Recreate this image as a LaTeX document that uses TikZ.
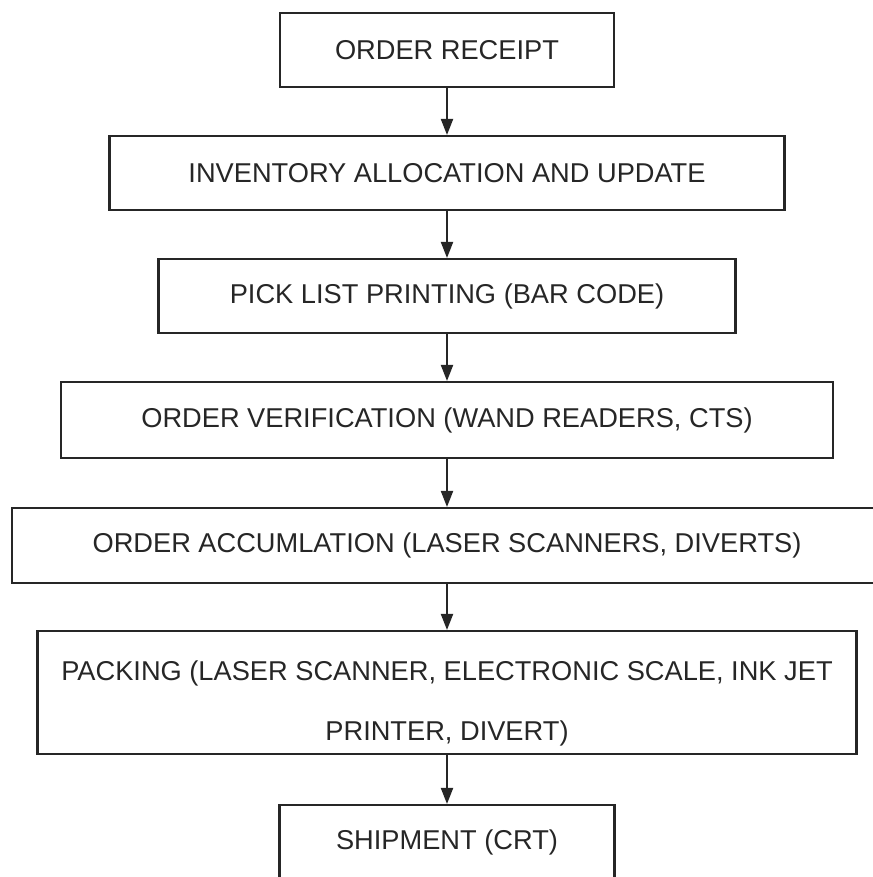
\documentclass[tikz,border=0pt]{standalone}
\usepackage{amsmath}
\usepackage{amssymb}
\usepackage{fontspec}
\setmainfont{Liberation Sans}
\usepackage{tikz}
\usetikzlibrary{arrows.meta}

\begin{document}
\begin{tikzpicture}[
    stepbox/.style = {draw = black!85, line width = 1.2pt, minimum height = 1.48cm,
                      text = black!85, font = \fontsize{15.5}{34}\selectfont},
    steptext/.style = {text = black!85, align = center, font = \fontsize{15.5}{34}\selectfont},
    flow/.style = {draw = black!85, line width = 1.2pt,
                   -{Triangle[width = 2.4mm, length = 3.2mm]}}
    ]
    \useasboundingbox (0,0) rectangle (17.46,-17.54);
    \begin{scope} [fill opacity = 1]
%% One box per step, all centred on the same vertical line.
    \node[stepbox, minimum width = 6.68cm]  (receipt)   at (8.94,-1.00)  {ORDER RECEIPT};
    \node[stepbox, minimum width = 13.5cm]  (inventory) at (8.94,-3.46)  {INVENTORY ALLOCATION AND UPDATE};
    \node[stepbox, minimum width = 11.54cm] (picklist)  at (8.94,-5.92)  {PICK LIST PRINTING (BAR CODE)};
    \node[stepbox, minimum width = 15.44cm, minimum height = 1.52cm] (verify) at (8.94,-8.40) {ORDER VERIFICATION (WAND READERS, CTS)};
    \node[stepbox, minimum width = 17.4cm, minimum height = 1.5cm]   (accum)  at (8.94,-10.91) {ORDER ACCUMLATION (LASER SCANNERS, DIVERTS)};
    \node[stepbox, minimum width = 16.38cm, minimum height = 2.46cm] (packing) at (8.94,-13.85) {};
%% The packing text sits a little below the middle of its box.
    \node[steptext] (packingtext) at ([yshift = -0.22cm] packing.center)
        {PACKING (LASER SCANNER, ELECTRONIC SCALE, INK JET\\PRINTER, DIVERT)};
    \node[stepbox, minimum width = 6.7cm]   (shipment)  at (8.94,-16.84) {SHIPMENT (CRT)};
%% Arrows from each step down to the next one.
    \draw[flow] (receipt.south)   -- (inventory.north);
    \draw[flow] (inventory.south) -- (picklist.north);
    \draw[flow] (picklist.south)  -- (verify.north);
    \draw[flow] (verify.south)    -- (accum.north);
    \draw[flow] (accum.south)     -- (packing.north);
    \draw[flow] (packing.south)   -- (shipment.north);
    \end{scope}
\end{tikzpicture}
\end{document}
